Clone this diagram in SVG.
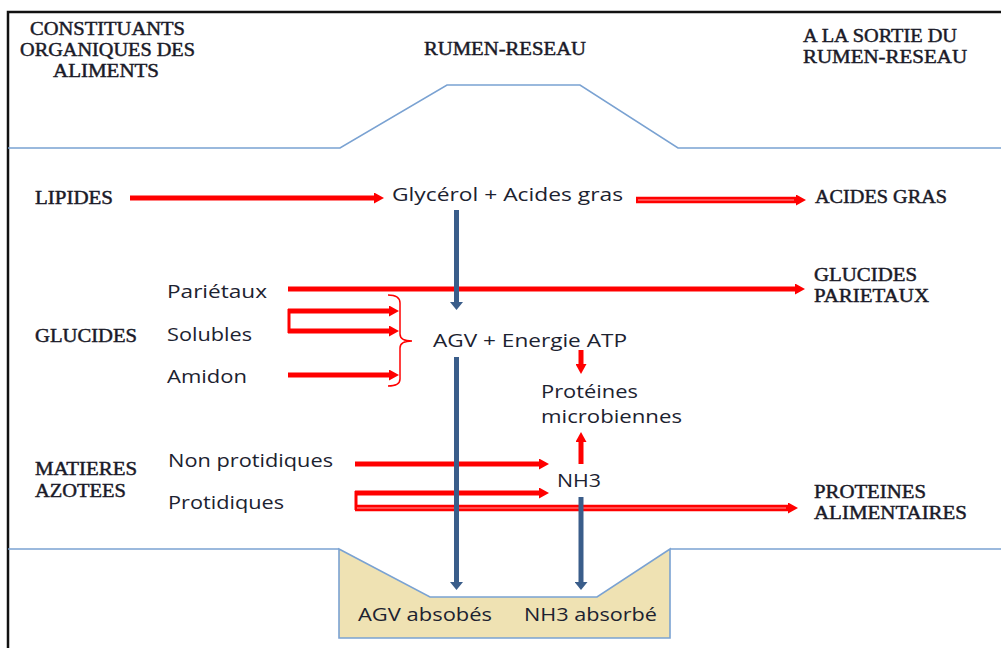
<svg xmlns="http://www.w3.org/2000/svg" width="1001" height="648" viewBox="0 0 1001 648">
<style>
.hd{font-family:"Liberation Serif","Times New Roman",serif;font-weight:normal;font-size:18.5px;fill:#1a1a28;stroke:#1a1a28;stroke-width:0.45}
.tx{font-family:"Open Sans","Noto Sans","DejaVu Sans",sans-serif;font-size:19px;fill:#1c2230}
.wall{fill:none;stroke:#7aa2d2;stroke-width:1.6}
.red{stroke:#ff0000;stroke-width:5;fill:none}
.redx{stroke:#ff0000;stroke-width:6.5;fill:none}
.redmid{stroke:#ff9a9a;stroke-width:1.2;fill:none}
.blue{stroke:#3a5d8a;stroke-width:5;fill:none}
</style>
<defs>
<marker id="rh" markerUnits="userSpaceOnUse" markerWidth="10" markerHeight="11" refX="0" refY="5.5" orient="auto">
<path d="M0,0 L10,5.5 L0,11 Z" fill="#ff0000"/>
</marker>
<marker id="bh" markerUnits="userSpaceOnUse" markerWidth="8" markerHeight="13" refX="0" refY="6.5" orient="auto">
<path d="M0,0 L8,6.5 L0,13 Z" fill="#3a5d8a"/>
</marker>
</defs>
<rect x="0" y="0" width="1001" height="648" fill="#ffffff"/>

<g id="frame">
<polyline points="1001,12 8,12 8,648" fill="none" stroke="#111" stroke-width="2.5"/>
</g>

<g id="rumen-walls">
<polyline class="wall" points="8,148 340,148 447,85 580,85 678,148 1001,148"/>
<polyline class="wall" points="8,549 339,549"/>
<polyline class="wall" points="670,549 1001,549"/>
<polygon points="339,549 430,597 597,597 670,549 670,638 339,638" fill="#efe2b3" stroke="#7aa2d2" stroke-width="1.6"/>
</g>

<g id="connectors">
<line class="red" x1="130" y1="198" x2="374" y2="198" marker-end="url(#rh)"/>
<line class="redx" x1="636" y1="200" x2="796" y2="200" marker-end="url(#rh)"/>
<line class="redmid" x1="638" y1="200" x2="794" y2="200"/>
<line class="red" x1="288" y1="289" x2="795" y2="289" marker-end="url(#rh)"/>
<line class="red" x1="288" y1="311" x2="389" y2="311" marker-end="url(#rh)"/>
<line class="red" x1="288" y1="331" x2="389" y2="331" marker-end="url(#rh)"/>
<line x1="289" y1="309" x2="289" y2="333" stroke="#ff0000" stroke-width="3"/>
<line class="red" x1="288" y1="375" x2="389" y2="375" marker-end="url(#rh)"/>
<path d="M388,295 Q400,295 400,303 L400,334 Q400,341 412,341 Q400,341 400,348 L400,379 Q400,386 388,386" fill="none" stroke="#ff0000" stroke-width="1.5"/>
<line class="red" x1="581" y1="350" x2="581" y2="364" marker-end="url(#rh)"/>
<line class="red" x1="581" y1="464" x2="581" y2="442" marker-end="url(#rh)"/>
<line class="red" x1="355" y1="464" x2="539" y2="464" marker-end="url(#rh)"/>
<line class="red" x1="355" y1="493" x2="539" y2="493" marker-end="url(#rh)"/>
<line x1="356" y1="491" x2="356" y2="510" stroke="#ff0000" stroke-width="3"/>
<line class="redx" x1="355" y1="508" x2="788" y2="508" marker-end="url(#rh)"/>
<line class="redmid" x1="357" y1="508" x2="786" y2="508"/>
<line class="blue" x1="456.5" y1="210" x2="456.5" y2="302" marker-end="url(#bh)"/>
<line class="blue" x1="456.5" y1="357" x2="456.5" y2="582" marker-end="url(#bh)"/>
<line class="blue" x1="581" y1="497" x2="581" y2="582" marker-end="url(#bh)"/>
</g>

<g id="col-constituants">
<text class="hd" x="30" y="35" textLength="155" lengthAdjust="spacingAndGlyphs">CONSTITUANTS</text>
<text class="hd" x="20" y="56" textLength="175" lengthAdjust="spacingAndGlyphs">ORGANIQUES DES</text>
<text class="hd" x="53" y="77" textLength="106" lengthAdjust="spacingAndGlyphs">ALIMENTS</text>
</g>
<g id="col-rumen">
<text class="hd" x="424" y="55" textLength="162" lengthAdjust="spacingAndGlyphs">RUMEN-RESEAU</text>
</g>
<g id="col-sortie">
<text class="hd" x="803" y="42" textLength="154" lengthAdjust="spacingAndGlyphs">A LA SORTIE DU</text>
<text class="hd" x="803" y="63" textLength="164" lengthAdjust="spacingAndGlyphs">RUMEN-RESEAU</text>
</g>

<g id="lipides"><text class="hd" x="35" y="204" textLength="78" lengthAdjust="spacingAndGlyphs">LIPIDES</text></g>
<g id="glycerol"><text class="tx" x="392" y="201" textLength="231" lengthAdjust="spacingAndGlyphs">Glycérol + Acides gras</text></g>
<g id="acides-gras"><text class="hd" x="815" y="203" textLength="132" lengthAdjust="spacingAndGlyphs">ACIDES GRAS</text></g>

<g id="glucides"><text class="hd" x="35" y="342" textLength="102" lengthAdjust="spacingAndGlyphs">GLUCIDES</text></g>
<g id="parietaux"><text class="tx" x="167" y="298" textLength="100" lengthAdjust="spacingAndGlyphs">Pariétaux</text></g>
<g id="solubles"><text class="tx" x="167" y="341" textLength="85" lengthAdjust="spacingAndGlyphs">Solubles</text></g>
<g id="amidon"><text class="tx" x="167" y="383" textLength="80" lengthAdjust="spacingAndGlyphs">Amidon</text></g>
<g id="glucides-parietaux">
<text class="hd" x="814" y="281" textLength="103" lengthAdjust="spacingAndGlyphs">GLUCIDES</text>
<text class="hd" x="814" y="302" textLength="115" lengthAdjust="spacingAndGlyphs">PARIETAUX</text>
</g>
<g id="agv-energie"><text class="tx" x="433" y="347" textLength="194" lengthAdjust="spacingAndGlyphs">AGV + Energie ATP</text></g>
<g id="proteines-microbiennes">
<text class="tx" x="541" y="398" textLength="97" lengthAdjust="spacingAndGlyphs">Protéines</text>
<text class="tx" x="541" y="423" textLength="141" lengthAdjust="spacingAndGlyphs">microbiennes</text>
</g>

<g id="matieres-azotees">
<text class="hd" x="35" y="475" textLength="102" lengthAdjust="spacingAndGlyphs">MATIERES</text>
<text class="hd" x="35" y="497" textLength="91" lengthAdjust="spacingAndGlyphs">AZOTEES</text>
</g>
<g id="non-protidiques"><text class="tx" x="168" y="467" textLength="165" lengthAdjust="spacingAndGlyphs">Non protidiques</text></g>
<g id="protidiques"><text class="tx" x="168" y="509" textLength="116" lengthAdjust="spacingAndGlyphs">Protidiques</text></g>
<g id="nh3"><text class="tx" x="557" y="487" textLength="44" lengthAdjust="spacingAndGlyphs">NH3</text></g>
<g id="proteines-alimentaires">
<text class="hd" x="814" y="498" textLength="112" lengthAdjust="spacingAndGlyphs">PROTEINES</text>
<text class="hd" x="814" y="519" textLength="153" lengthAdjust="spacingAndGlyphs">ALIMENTAIRES</text>
</g>

<g id="agv-absorbes"><text class="tx" x="358" y="621" textLength="134" lengthAdjust="spacingAndGlyphs">AGV absobés</text></g>
<g id="nh3-absorbe"><text class="tx" x="524" y="621" textLength="133" lengthAdjust="spacingAndGlyphs">NH3 absorbé</text></g>
</svg>
